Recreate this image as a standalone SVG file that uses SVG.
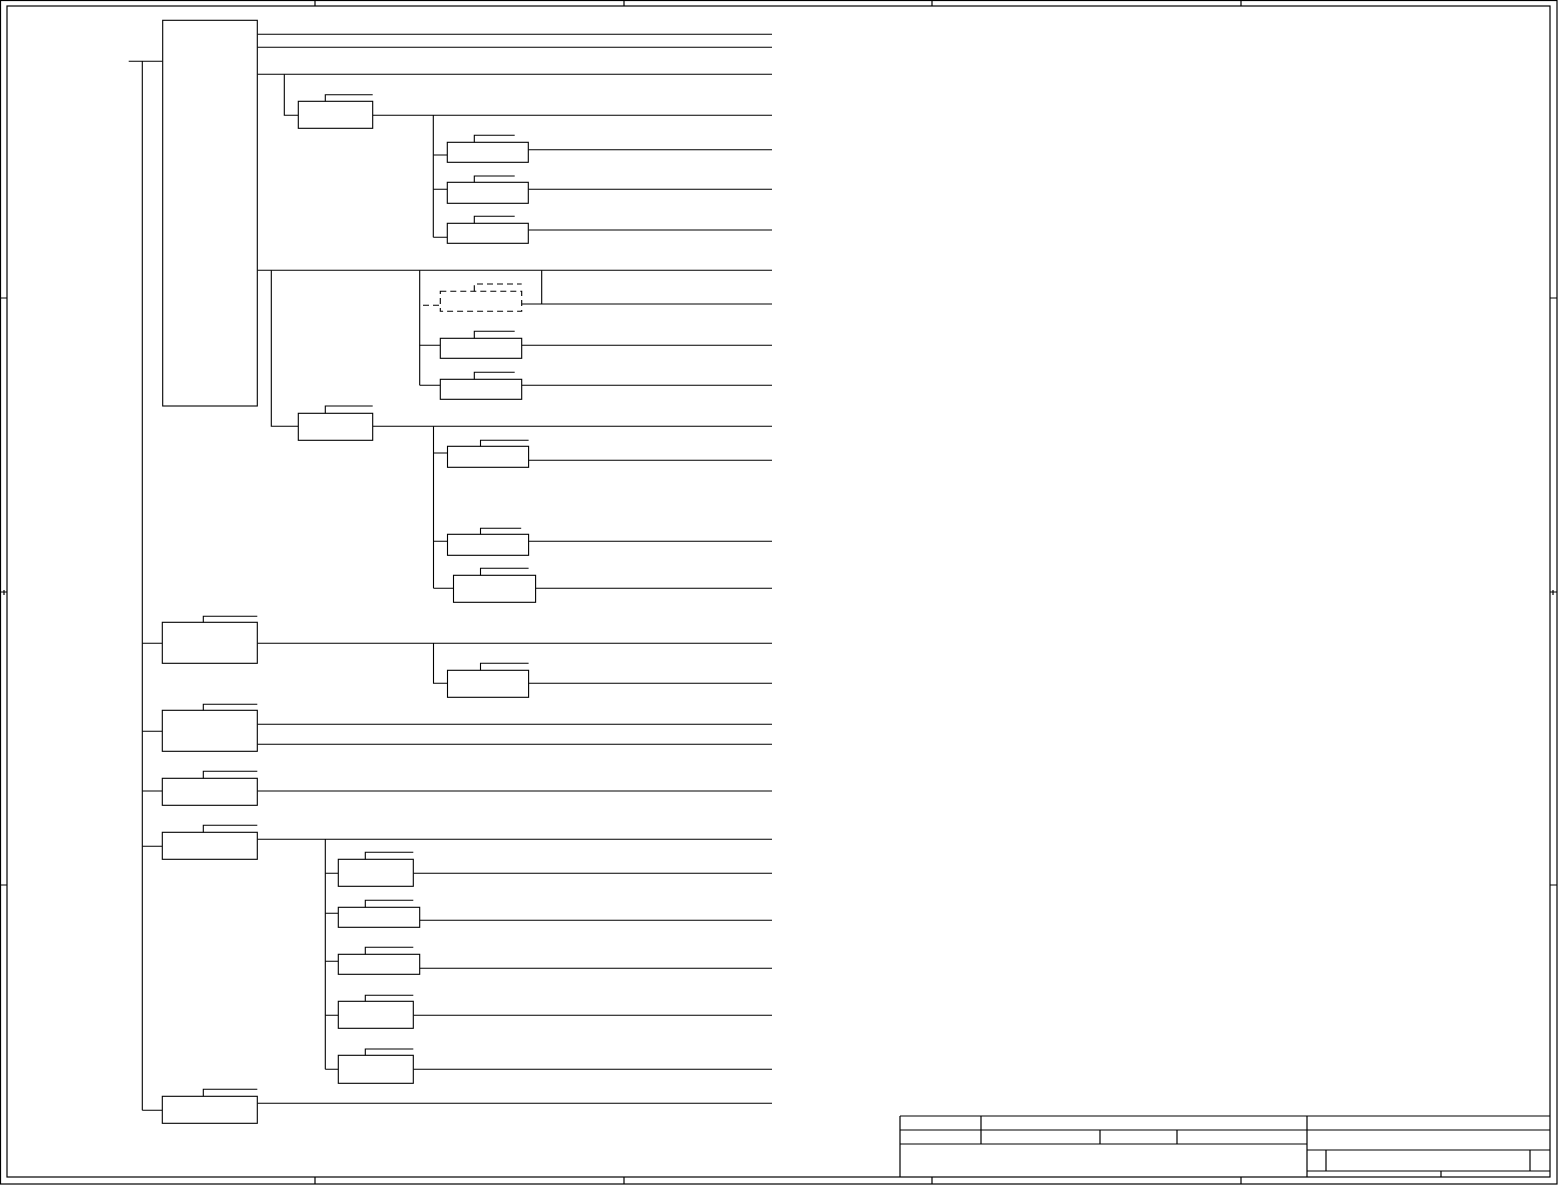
<svg xmlns="http://www.w3.org/2000/svg" width="1558" height="1185" viewBox="0 0 1558 1185">
<style>
.n{fill:#fff;stroke:#000;stroke-width:1.1}
.d{fill:#fff;stroke:#000;stroke-width:1.1;stroke-dasharray:6 4}
.l{fill:none;stroke:#000;stroke-width:1.1}
.ld{fill:none;stroke:#000;stroke-width:1.1;stroke-dasharray:6 4}
.f{fill:none;stroke:#000;stroke-width:1.2}
</style>
<rect width="1558" height="1185" fill="#fff"/>
<g id="frame">
<rect class="f" x="0.5" y="0.5" width="1556.5" height="1183.5"/>
<rect class="f" x="7" y="6" width="1543" height="1171"/>
<path class="f" d="M315 1V6M624 1V6M932 1V6M1241 1V6M315 1177V1184M624 1177V1184M932 1177V1184M1241 1177V1184M1 298H7M1 885H7M1 592H7M4 590V595M1550 298H1557M1550 885H1557M1550 592H1557M1553 590V595"/>
</g>
<g id="title-block">
<path class="f" d="M900 1116H1550M900 1130H1550M900 1144H1307M1307 1150H1550M1307 1171H1550M900 1116V1177M981 1116V1144M1100 1130V1144M1177 1130V1144M1307 1116V1177M1326 1150V1171M1530 1150V1171M1441 1171V1177"/>
</g>
<g id="connectors">
<path class="l" d="M128.7 61.3H162.7M142.3 61.3V1110.3"/>
<path class="l" d="M257.3 34.3H772M257.3 47.3H772M257.3 74.3H772M257.3 270.3H772"/>
<path class="l" d="M284.3 74.3V115.3H298.3M372.7 115.3H772M433.3 115.3V237.3"/>
<path class="l" d="M433.3 155H447.3M528.3 149.7H772M433.3 189.3H447.3M528.3 189.3H772M433.3 237.3H447.3M528.3 230H772"/>
<path class="l" d="M271.3 270.3V426.3H298.3M372.7 426.3H772"/>
<path class="l" d="M419.7 270.3V385.3M541.7 270.3V304M521.7 304H772"/>
<path class="ld" d="M423 305.3H440.3"/>
<path class="l" d="M419.7 345.3H440.3M521.7 345.3H772M419.7 385.3H440.3M521.7 385.3H772"/>
<path class="l" d="M433.5 426.3V588.3M433.5 453H447.5M528.6 460.3H772M433.5 541.3H447.5M528.6 541.3H772M433.5 588.3H453.5M535.6 588.3H772"/>
<path class="l" d="M142.3 643.3H162.3M257.3 643.3H772M433.5 643.3V683.3H447.5M528.6 683.3H772"/>
<path class="l" d="M142.3 731.3H162.3M257.3 724.3H772M257.3 744.3H772"/>
<path class="l" d="M142.3 791H162.3M257.3 791H772"/>
<path class="l" d="M142.3 846.3H162.3M257.3 839.3H772M325.3 839.3V1069.3"/>
<path class="l" d="M325.3 873.3H338.3M413.3 873.3H772M325.3 913.3H338.3M419.7 920.3H772M325.3 961.3H338.3M419.7 968.3H772M325.3 1015.3H338.3M413.3 1015.3H772M325.3 1069.3H338.3M413.3 1069.3H772"/>
<path class="l" d="M142.3 1110.3H162.3M257.3 1103.3H772"/>
</g>
<g id="node-main"><rect class="n" x="162.7" y="20.3" width="94.6" height="385.7"/></g>
<g id="node-1"><rect class="n" x="298.3" y="101.3" width="74.4" height="27"/><path class="l" d="M325.3 101.3V94.7H372.7"/></g>
<g id="node-1a"><rect class="n" x="447.3" y="142.3" width="81" height="20"/><path class="l" d="M474.3 142.3V135.3H514.7"/></g>
<g id="node-1b"><rect class="n" x="447.3" y="182.3" width="81" height="21"/><path class="l" d="M474.3 182.3V176H514.7"/></g>
<g id="node-1c"><rect class="n" x="447.3" y="223.3" width="81" height="20"/><path class="l" d="M474.3 223.3V216.3H514.7"/></g>
<g id="node-dashed"><rect class="d" x="440.3" y="291.3" width="81.4" height="20"/><path class="ld" d="M474.3 291.3V284H521.7"/></g>
<g id="node-d"><rect class="n" x="440.3" y="338.3" width="81.4" height="20"/><path class="l" d="M474.3 338.3V331.3H514.7"/></g>
<g id="node-e"><rect class="n" x="440.3" y="379.3" width="81.4" height="20"/><path class="l" d="M474.3 379.3V372.3H514.7"/></g>
<g id="node-2"><rect class="n" x="298.3" y="413.3" width="74.4" height="27"/><path class="l" d="M325.3 413.3V406H372.7"/></g>
<g id="node-2a"><rect class="n" x="447.5" y="446.3" width="81.1" height="21"/><path class="l" d="M480.5 446.3V440.3H528.6"/></g>
<g id="node-2b"><rect class="n" x="447.5" y="534.3" width="81.1" height="21"/><path class="l" d="M480.5 534.3V528.3H521.2"/></g>
<g id="node-2c"><rect class="n" x="453.5" y="575.3" width="82.1" height="27"/><path class="l" d="M480.5 575.3V568.3H528.6"/></g>
<g id="node-k"><rect class="n" x="162.3" y="622.3" width="95" height="41"/><path class="l" d="M203.3 622.3V616.3H257.3"/></g>
<g id="node-ka"><rect class="n" x="447.5" y="670.3" width="81.1" height="27"/><path class="l" d="M480.5 670.3V663.3H528.6"/></g>
<g id="node-l"><rect class="n" x="162.3" y="710.3" width="95" height="41"/><path class="l" d="M203.3 710.3V704.3H257.3"/></g>
<g id="node-m"><rect class="n" x="162.3" y="778.3" width="95" height="27"/><path class="l" d="M203.3 778.3V771.3H257.3"/></g>
<g id="node-n"><rect class="n" x="162.3" y="832.3" width="95" height="27"/><path class="l" d="M203.3 832.3V825.3H257.3"/></g>
<g id="node-o"><rect class="n" x="338.3" y="859.3" width="75" height="27"/><path class="l" d="M365.3 859.3V852.3H413.3"/></g>
<g id="node-p"><rect class="n" x="338.3" y="907.3" width="81.4" height="20"/><path class="l" d="M365.3 907.3V900.3H413.3"/></g>
<g id="node-q"><rect class="n" x="338.3" y="954.3" width="81.4" height="20"/><path class="l" d="M365.3 954.3V947.3H413.3"/></g>
<g id="node-r"><rect class="n" x="338.3" y="1001.3" width="75" height="27"/><path class="l" d="M365.3 1001.3V995.3H413.3"/></g>
<g id="node-s"><rect class="n" x="338.3" y="1055.3" width="75" height="28"/><path class="l" d="M365.3 1055.3V1049H413.3"/></g>
<g id="node-t"><rect class="n" x="162.3" y="1096.3" width="95" height="27"/><path class="l" d="M203.3 1096.3V1089.3H257.3"/></g>
</svg>
